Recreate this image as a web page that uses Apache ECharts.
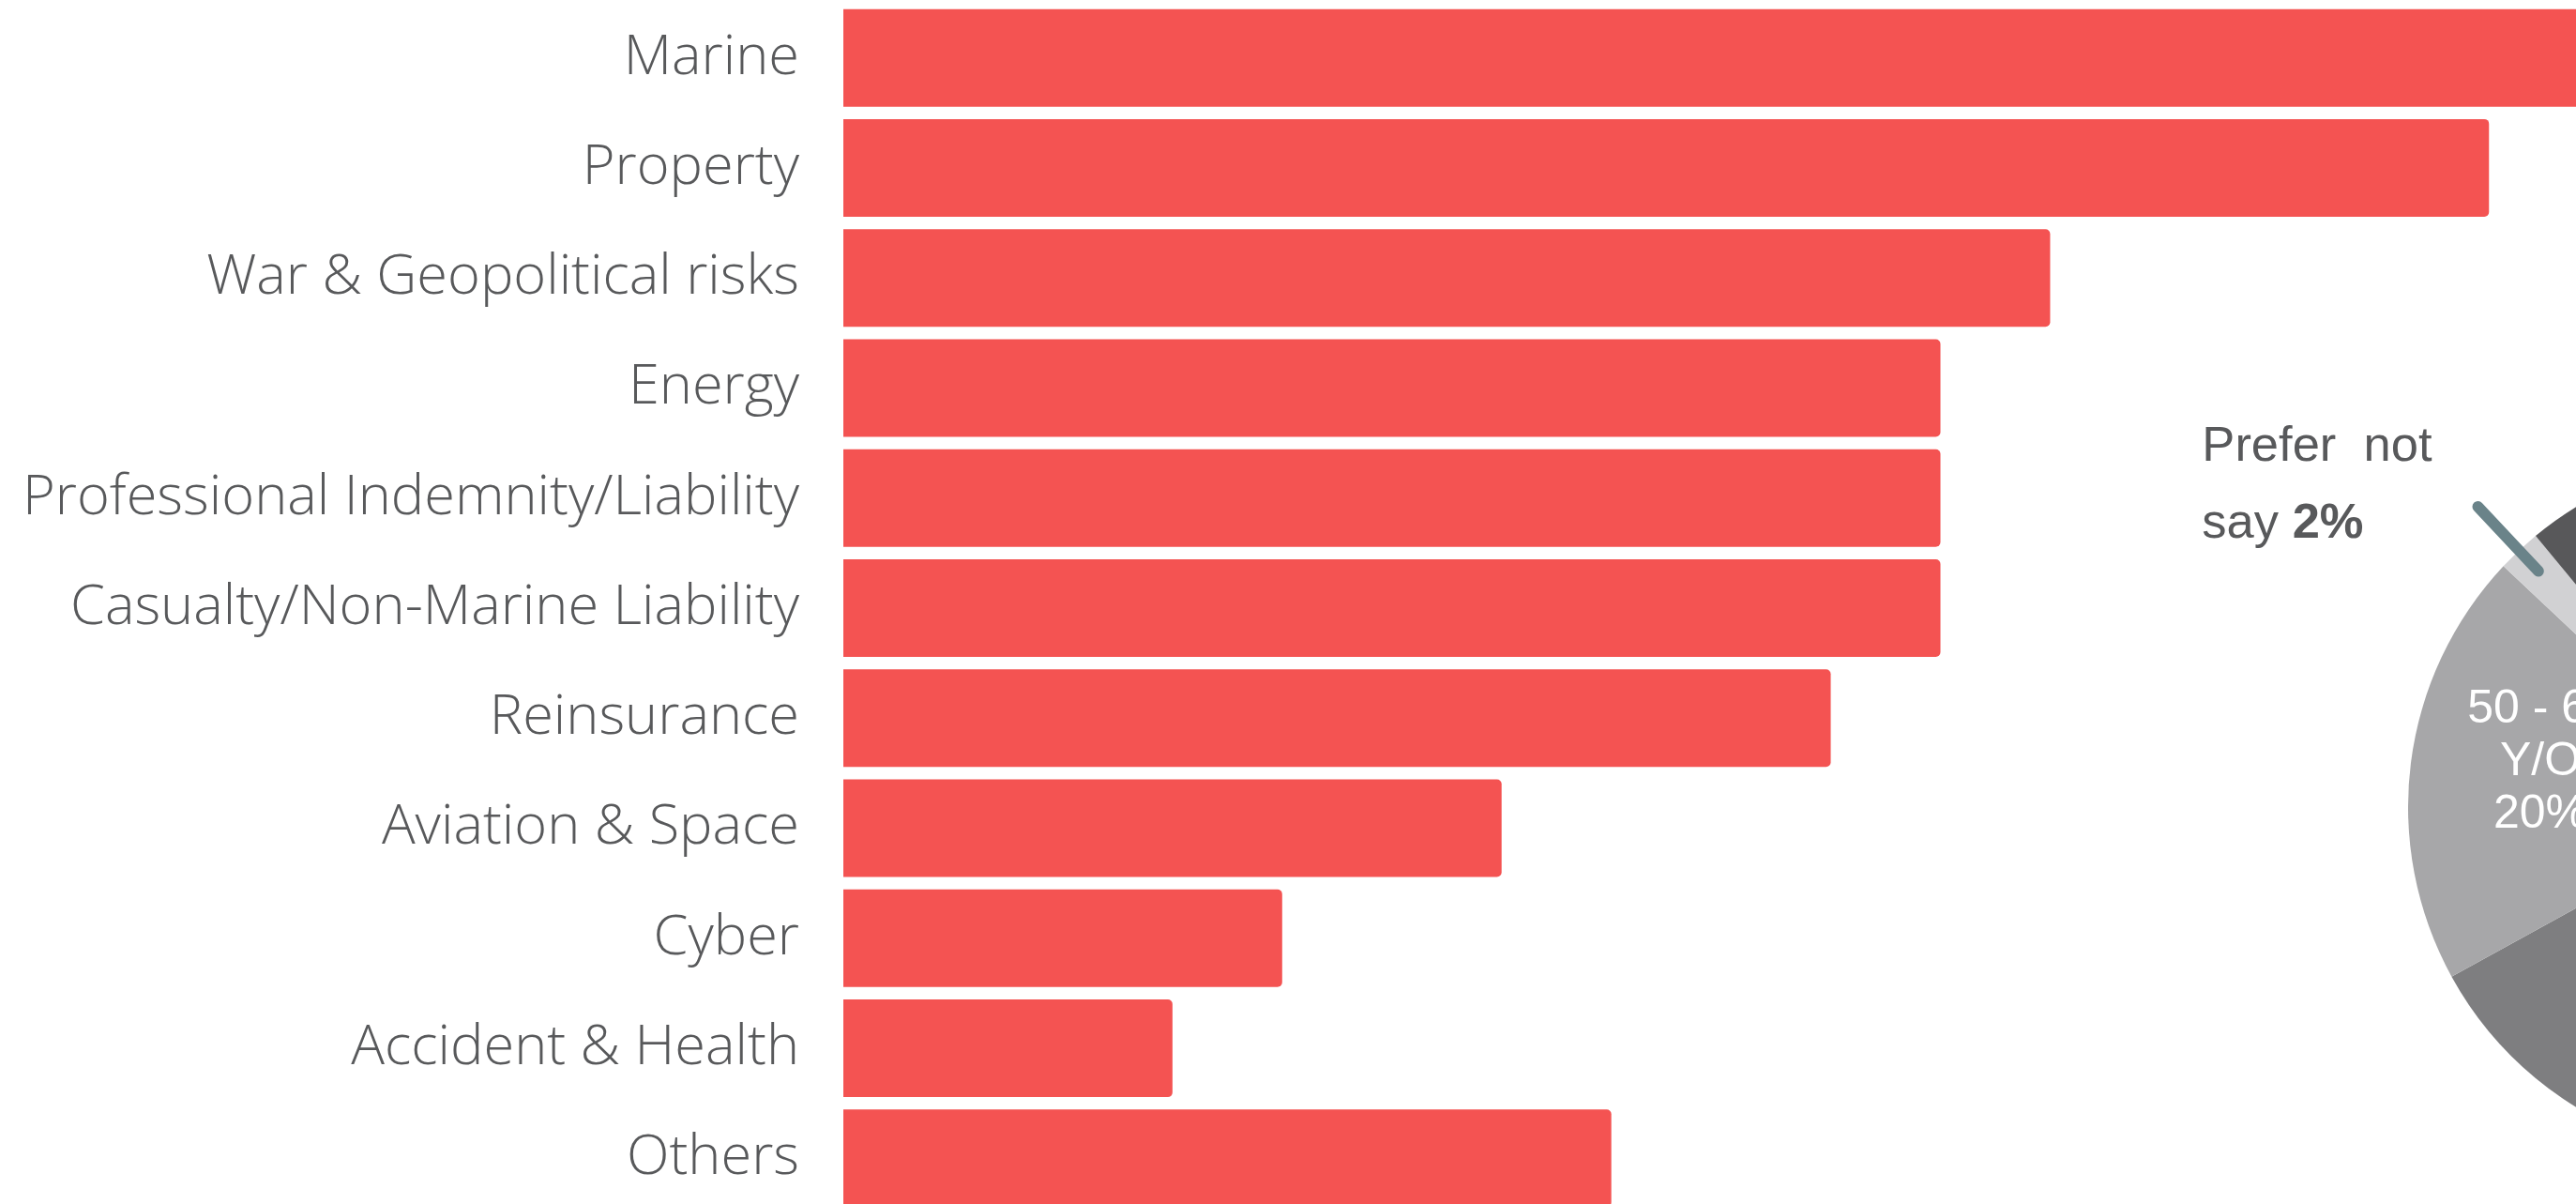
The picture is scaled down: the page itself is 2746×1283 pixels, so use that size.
<!DOCTYPE html>
<html>
<head>
<meta charset="utf-8">
<title>Lines of business and age profile</title>
<script src="https://cdn.jsdelivr.net/npm/echarts@6/dist/echarts.min.js"></script>
<style>
  html, body { margin: 0; padding: 0; background: #ffffff; }
  #chart { width: 2746px; height: 1283px; }
</style>
</head>
<body>
<div id="chart"></div>
<script>
// Lines of business (share of respondents)
const categories = [
  'Marine',
  'Property',
  'War & Geopolitical risks',
  'Energy',
  'Professional Indemnity/Liability',
  'Casualty/Non-Marine Liability',
  'Reinsurance',
  'Aviation & Space',
  'Cyber',
  'Accident & Health',
  'Others'
];
const shares = [17, 15, 11, 10, 10, 10, 9, 6, 4, 3, 7];

// Age profile of respondents (percent)
const ageGroups = ['Under 30 Y/O', '30 - 39 Y/O', '40 - 49 Y/O', '50 - 60 Y/O', 'Prefer not say', 'Over 60 Y/O'];
const agePct = [9, 27, 31, 20, 2, 11];

// Slice colours, in the same order as ageGroups
const agePalette = ['#c4c4c6', '#98989a', '#7e7e80', '#a7a7a9', '#d1d1d3', '#58585a'];

const PIE_CENTER = [2942, 860];
const PIE_RADIUS = 375;
const TEXT_GREY = '#58595b';

const chart = echarts.init(document.getElementById('chart'), null, { renderer: 'canvas' });

const pieData = ageGroups.map((name, i) => ({
  name: name,
  value: agePct[i],
  itemStyle: { color: agePalette[i] },
  label: { show: name === '50 - 60 Y/O' }
}));

// Callout series: a transparent, slightly smaller pie so the leader line
// starts inside the slice it points at.
const calloutData = ageGroups.map((name, i) => ({
  name: name,
  value: agePct[i],
  label: { show: name === 'Prefer not say' },
  labelLine: { show: name === 'Prefer not say' }
}));

const calloutText = {
  align: 'left',
  color: TEXT_GREY,
  fontFamily: "'Liberation Sans', Arial, sans-serif",
  fontSize: 52.5,
  lineHeight: 82
};

chart.setOption({
  animation: false,
  backgroundColor: '#ffffff',
  grid: {
    left: 899, top: 3, width: 2339, height: 1290,
    containLabel: false,
    outerBoundsMode: 'none'
  },
  xAxis: {
    type: 'value',
    min: 0,
    max: 20,
    show: false
  },
  yAxis: {
    type: 'category',
    data: categories,
    inverse: true,
    axisLine: { show: false },
    axisTick: { show: false },
    splitLine: { show: false },
    axisLabel: {
      margin: 47,
      color: TEXT_GREY,
      fontFamily: "'Open Sans', sans-serif",
      fontWeight: 300,
      fontSize: 59.5,
      padding: [23, 0, 0, 0]
    }
  },
  series: [
    {
      type: 'bar',
      data: shares,
      barWidth: 104,
      itemStyle: { color: '#f45352', borderRadius: [0, 5, 5, 0] },
      silent: true
    },
    {
      type: 'pie',
      z: 2,
      center: PIE_CENTER,
      radius: PIE_RADIUS,
      startAngle: 90,
      clockwise: true,
      silent: true,
      avoidLabelOverlap: false,
      itemStyle: { borderWidth: 0 },
      data: pieData,
      label: {
        position: 'inside',
        color: '#ffffff',
        fontFamily: "'Liberation Sans', Arial, sans-serif",
        fontSize: 50,
        lineHeight: 56,
        align: 'center',
        formatter: p => p.name.replace(' Y/O', '\nY/O') + '\n' + p.value + '%'
      },
      labelLine: { show: false },
      labelLayout: { dx: -45, dy: -24 }
    },
    {
      type: 'pie',
      z: 5,
      center: PIE_CENTER,
      radius: PIE_RADIUS - 30,
      startAngle: 90,
      clockwise: true,
      silent: true,
      avoidLabelOverlap: false,
      itemStyle: { color: 'rgba(0,0,0,0)', borderWidth: 0 },
      data: calloutData,
      label: {
        position: 'outside',
        alignTo: 'none',
        distanceToLabelLine: 49,
        padding: [0, 0, 44, 0],
        formatter: p => '{a|Prefer  not}\n{a|say }{b|' + p.value + '%}',
        rich: {
          a: calloutText,
          b: Object.assign({}, calloutText, { fontWeight: 'bold' })
        }
      },
      labelLine: {
        length: 94,
        length2: 0,
        smooth: false,
        lineStyle: { color: '#6a8389', width: 12, cap: 'round' }
      }
    }
  ]
});
</script>
</body>
</html>
